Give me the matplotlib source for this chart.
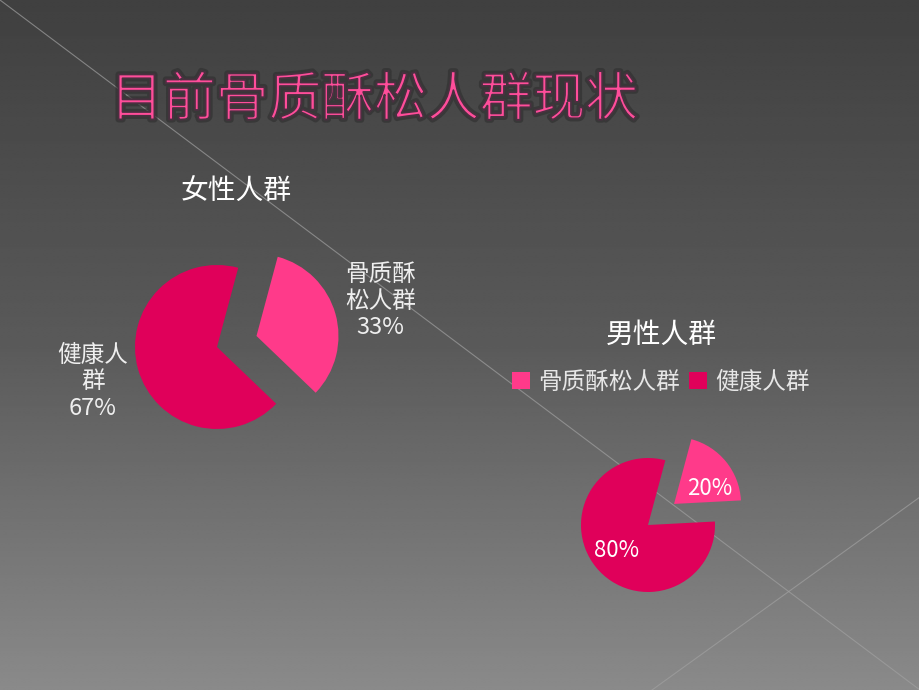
import matplotlib
matplotlib.use("Agg")
import matplotlib.pyplot as plt
import matplotlib.patheffects as pe
import numpy as np

plt.rcParams['font.family'] = ['Noto Sans CJK SC', 'DejaVu Sans']

title = "目前骨质酥松人群现状"
categories = ["骨质酥松人群", "健康人群"]
female_title = "女性人群"
female_values = [33, 67]
female_names = ["骨质酥\n松人群", "健康人\n群"]
male_title = "男性人群"
male_values = [20, 80]

colors = ["#ff3a8a", "#e0005a"]
W, H = 920, 690

fig = plt.figure(figsize=(9.2, 6.9), dpi=100)

# background gradient
bg = fig.add_axes([0, 0, 1, 1])
yy = np.linspace(0, 1, 256)
shade = np.interp(yy, [0, 0.5, 1.0], [64, 90, 138]) / 255.0
grad = np.repeat(shade[:, None], 2, axis=1)
bg.imshow(grad, cmap="gray", vmin=0, vmax=1, aspect="auto",
          extent=[0, W, H, 0], interpolation="bilinear")
bg.plot([0, W], [0, H], color="#a0a0a0", lw=0.8, alpha=0.7)
bg.plot([652, W], [H, 497], color="#a0a0a0", lw=0.8, alpha=0.7)
bg.set_xlim(0, W)
bg.set_ylim(H, 0)
bg.axis("off")

# title: thin pink glyphs with a dark edge
fig.text(374 / W, 1 - 100 / H, title, color="#ff4d9a", fontsize=38,
         ha="center", va="center",
         path_effects=[pe.Stroke(linewidth=4.5, foreground="#2e2e2e", alpha=0.6),
                       pe.Stroke(linewidth=1.3, foreground="#4a3040")])


def pie_axes(cx, cy, r):
    ax = fig.add_axes([(cx - 2 * r) / W, 1 - (cy + 2 * r) / H, 4 * r / W, 4 * r / H])
    ax.axis("off")
    return ax


# female pie
ax1 = pie_axes(217, 347, 82)
labels1 = [f"{n}\n{v}%" for n, v in zip(female_names, female_values)]
wedges, texts = ax1.pie(female_values, colors=colors, startangle=75,
                        counterclock=False, explode=[0.5, 0], radius=1,
                        labels=labels1, labeldistance=1.57,
                        textprops=dict(color="#eeeeee", fontsize=17,
                                       linespacing=1.2))
for t in texts:
    t.set_ha("center")
    t.set_va("center")
ax1.set_xlim(-2, 2)
ax1.set_ylim(-2, 2)
fig.text(236 / W, 1 - 192 / H, female_title, color="white", fontsize=20,
         ha="center", va="center")

# male pie
ax2 = pie_axes(648, 525, 67)
wedges2, texts2, autotexts2 = ax2.pie(male_values, colors=colors, startangle=75,
                                      counterclock=False, explode=[0.5, 0],
                                      radius=1, autopct="%d%%", pctdistance=0.6,
                                      textprops=dict(color="white", fontsize=16))
x0, y0 = autotexts2[0].get_position()
autotexts2[0].set_position((x0 + 0.07, y0 - 0.15))
ax2.set_xlim(-2, 2)
ax2.set_ylim(-2, 2)
fig.text(661 / W, 1 - 335 / H, male_title, color="white", fontsize=20,
         ha="center", va="center")
fig.legend(wedges2, categories, loc="center", bbox_to_anchor=(661 / W, 1 - 382 / H),
           ncol=2, frameon=False, fontsize=17, labelcolor="#e6e6e6",
           handlelength=0.75, handleheight=0.75, handletextpad=0.35,
           columnspacing=0.4)

fig.savefig("out.png", dpi=100)
